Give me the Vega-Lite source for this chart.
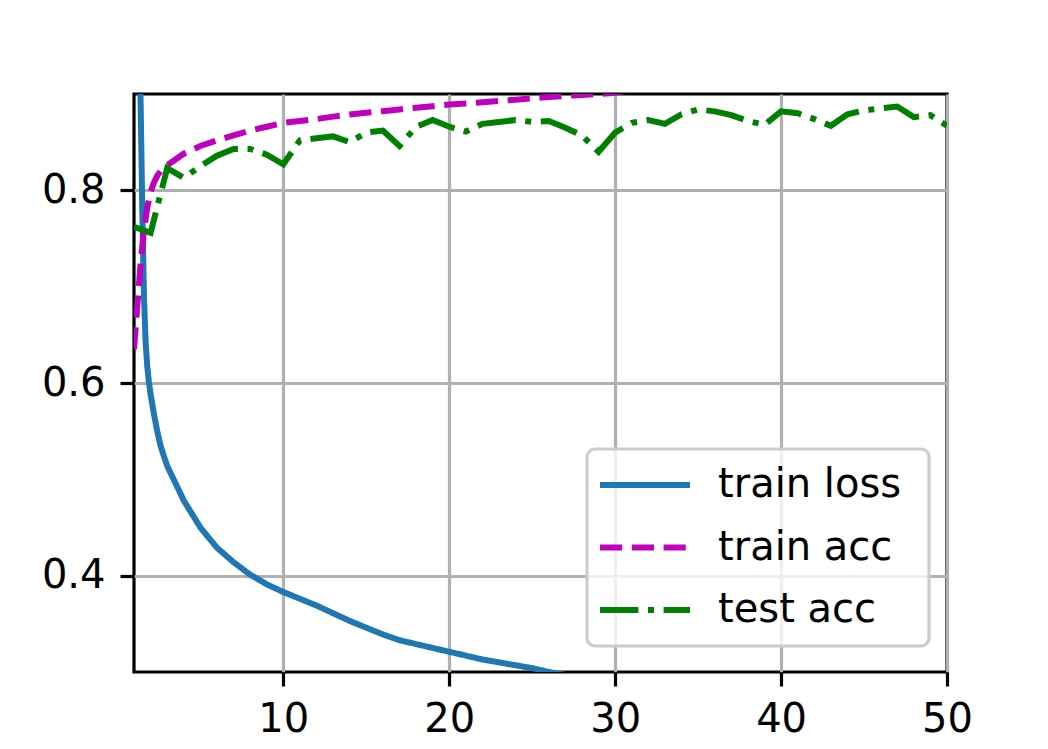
{
  "$schema": "https://vega.github.io/schema/vega-lite/v6.json",
  "width": 813,
  "height": 578,
  "autosize": {"type": "none"},
  "padding": {"left": 134, "top": 94, "right": 101, "bottom": 77},
  "background": "white",
  "config": {
    "font": "DejaVu Sans",
    "view": {"stroke": "black", "strokeWidth": 3.2},
    "axis": {
      "domain": false,
      "grid": true,
      "gridColor": "#b0b0b0",
      "gridWidth": 3.2,
      "ticks": true,
      "tickColor": "black",
      "tickWidth": 3.2,
      "tickSize": 14,
      "labelFont": "DejaVu Sans",
      "labelFontSize": 40,
      "labelColor": "black",
      "labelFlush": false,
      "labelOverlap": false,
      "title": null
    }
  },
  "data": {
    "values": [
      {"epoch": 1.0, "series": "train loss", "value": 1.22},
      {"epoch": 1.1, "series": "train loss", "value": 1.13},
      {"epoch": 1.2, "series": "train loss", "value": 1.05},
      {"epoch": 1.3, "series": "train loss", "value": 0.97},
      {"epoch": 1.4, "series": "train loss", "value": 0.89},
      {"epoch": 1.5, "series": "train loss", "value": 0.78},
      {"epoch": 1.6, "series": "train loss", "value": 0.69},
      {"epoch": 1.7, "series": "train loss", "value": 0.643},
      {"epoch": 1.8, "series": "train loss", "value": 0.617},
      {"epoch": 1.9, "series": "train loss", "value": 0.601},
      {"epoch": 2.0, "series": "train loss", "value": 0.588},
      {"epoch": 2.2, "series": "train loss", "value": 0.568},
      {"epoch": 2.4, "series": "train loss", "value": 0.55},
      {"epoch": 2.6, "series": "train loss", "value": 0.535},
      {"epoch": 2.8, "series": "train loss", "value": 0.524},
      {"epoch": 3, "series": "train loss", "value": 0.514},
      {"epoch": 4, "series": "train loss", "value": 0.478},
      {"epoch": 5, "series": "train loss", "value": 0.45},
      {"epoch": 6, "series": "train loss", "value": 0.429},
      {"epoch": 7, "series": "train loss", "value": 0.414},
      {"epoch": 8, "series": "train loss", "value": 0.401},
      {"epoch": 9, "series": "train loss", "value": 0.391},
      {"epoch": 10, "series": "train loss", "value": 0.383},
      {"epoch": 11, "series": "train loss", "value": 0.376},
      {"epoch": 12, "series": "train loss", "value": 0.369},
      {"epoch": 13, "series": "train loss", "value": 0.361},
      {"epoch": 14, "series": "train loss", "value": 0.353},
      {"epoch": 15, "series": "train loss", "value": 0.346},
      {"epoch": 16, "series": "train loss", "value": 0.339},
      {"epoch": 17, "series": "train loss", "value": 0.333},
      {"epoch": 18, "series": "train loss", "value": 0.329},
      {"epoch": 19, "series": "train loss", "value": 0.325},
      {"epoch": 20, "series": "train loss", "value": 0.321},
      {"epoch": 21, "series": "train loss", "value": 0.317},
      {"epoch": 22, "series": "train loss", "value": 0.313},
      {"epoch": 23, "series": "train loss", "value": 0.31},
      {"epoch": 24, "series": "train loss", "value": 0.307},
      {"epoch": 25, "series": "train loss", "value": 0.304},
      {"epoch": 26, "series": "train loss", "value": 0.3},
      {"epoch": 27, "series": "train loss", "value": 0.297},
      {"epoch": 28, "series": "train loss", "value": 0.294},
      {"epoch": 29, "series": "train loss", "value": 0.291},
      {"epoch": 30, "series": "train loss", "value": 0.288},
      {"epoch": 31, "series": "train loss", "value": 0.286},
      {"epoch": 32, "series": "train loss", "value": 0.283},
      {"epoch": 33, "series": "train loss", "value": 0.281},
      {"epoch": 34, "series": "train loss", "value": 0.279},
      {"epoch": 35, "series": "train loss", "value": 0.277},
      {"epoch": 36, "series": "train loss", "value": 0.275},
      {"epoch": 37, "series": "train loss", "value": 0.273},
      {"epoch": 38, "series": "train loss", "value": 0.271},
      {"epoch": 39, "series": "train loss", "value": 0.269},
      {"epoch": 40, "series": "train loss", "value": 0.267},
      {"epoch": 41, "series": "train loss", "value": 0.266},
      {"epoch": 42, "series": "train loss", "value": 0.264},
      {"epoch": 43, "series": "train loss", "value": 0.262},
      {"epoch": 44, "series": "train loss", "value": 0.261},
      {"epoch": 45, "series": "train loss", "value": 0.259},
      {"epoch": 46, "series": "train loss", "value": 0.258},
      {"epoch": 47, "series": "train loss", "value": 0.256},
      {"epoch": 48, "series": "train loss", "value": 0.255},
      {"epoch": 49, "series": "train loss", "value": 0.254},
      {"epoch": 50, "series": "train loss", "value": 0.252},

      {"epoch": 1.0, "series": "train acc", "value": 0.635},
      {"epoch": 1.2, "series": "train acc", "value": 0.68},
      {"epoch": 1.4, "series": "train acc", "value": 0.725},
      {"epoch": 1.6, "series": "train acc", "value": 0.758},
      {"epoch": 1.8, "series": "train acc", "value": 0.782},
      {"epoch": 2.0, "series": "train acc", "value": 0.798},
      {"epoch": 2.2, "series": "train acc", "value": 0.808},
      {"epoch": 2.4, "series": "train acc", "value": 0.815},
      {"epoch": 2.6, "series": "train acc", "value": 0.82},
      {"epoch": 2.8, "series": "train acc", "value": 0.823},
      {"epoch": 3, "series": "train acc", "value": 0.826},
      {"epoch": 4, "series": "train acc", "value": 0.838},
      {"epoch": 5, "series": "train acc", "value": 0.846},
      {"epoch": 6, "series": "train acc", "value": 0.852},
      {"epoch": 7, "series": "train acc", "value": 0.857},
      {"epoch": 8, "series": "train acc", "value": 0.862},
      {"epoch": 9, "series": "train acc", "value": 0.866},
      {"epoch": 10, "series": "train acc", "value": 0.87},
      {"epoch": 11, "series": "train acc", "value": 0.872},
      {"epoch": 12, "series": "train acc", "value": 0.874},
      {"epoch": 13, "series": "train acc", "value": 0.8765},
      {"epoch": 14, "series": "train acc", "value": 0.8787},
      {"epoch": 15, "series": "train acc", "value": 0.8805},
      {"epoch": 16, "series": "train acc", "value": 0.8822},
      {"epoch": 17, "series": "train acc", "value": 0.884},
      {"epoch": 18, "series": "train acc", "value": 0.8857},
      {"epoch": 19, "series": "train acc", "value": 0.8873},
      {"epoch": 20, "series": "train acc", "value": 0.889},
      {"epoch": 21, "series": "train acc", "value": 0.8902},
      {"epoch": 22, "series": "train acc", "value": 0.8914},
      {"epoch": 23, "series": "train acc", "value": 0.8927},
      {"epoch": 24, "series": "train acc", "value": 0.894},
      {"epoch": 25, "series": "train acc", "value": 0.8955},
      {"epoch": 26, "series": "train acc", "value": 0.897},
      {"epoch": 27, "series": "train acc", "value": 0.898},
      {"epoch": 28, "series": "train acc", "value": 0.899},
      {"epoch": 29, "series": "train acc", "value": 0.9},
      {"epoch": 30, "series": "train acc", "value": 0.9014},
      {"epoch": 31, "series": "train acc", "value": 0.9042},
      {"epoch": 32, "series": "train acc", "value": 0.9055},
      {"epoch": 33, "series": "train acc", "value": 0.9065},
      {"epoch": 34, "series": "train acc", "value": 0.9073},
      {"epoch": 35, "series": "train acc", "value": 0.908},
      {"epoch": 36, "series": "train acc", "value": 0.9087},
      {"epoch": 37, "series": "train acc", "value": 0.9093},
      {"epoch": 38, "series": "train acc", "value": 0.9099},
      {"epoch": 39, "series": "train acc", "value": 0.9105},
      {"epoch": 40, "series": "train acc", "value": 0.911},
      {"epoch": 41, "series": "train acc", "value": 0.9115},
      {"epoch": 42, "series": "train acc", "value": 0.912},
      {"epoch": 43, "series": "train acc", "value": 0.9125},
      {"epoch": 44, "series": "train acc", "value": 0.913},
      {"epoch": 45, "series": "train acc", "value": 0.9134},
      {"epoch": 46, "series": "train acc", "value": 0.9138},
      {"epoch": 47, "series": "train acc", "value": 0.9142},
      {"epoch": 48, "series": "train acc", "value": 0.9146},
      {"epoch": 49, "series": "train acc", "value": 0.915},
      {"epoch": 50, "series": "train acc", "value": 0.9154},

      {"epoch": 1, "series": "test acc", "value": 0.762},
      {"epoch": 2, "series": "test acc", "value": 0.756},
      {"epoch": 3, "series": "test acc", "value": 0.823},
      {"epoch": 4, "series": "test acc", "value": 0.813},
      {"epoch": 5, "series": "test acc", "value": 0.825},
      {"epoch": 6, "series": "test acc", "value": 0.836},
      {"epoch": 7, "series": "test acc", "value": 0.843},
      {"epoch": 8, "series": "test acc", "value": 0.843},
      {"epoch": 9, "series": "test acc", "value": 0.837},
      {"epoch": 10, "series": "test acc", "value": 0.827},
      {"epoch": 11, "series": "test acc", "value": 0.852},
      {"epoch": 12, "series": "test acc", "value": 0.854},
      {"epoch": 13, "series": "test acc", "value": 0.856},
      {"epoch": 14, "series": "test acc", "value": 0.85},
      {"epoch": 15, "series": "test acc", "value": 0.86},
      {"epoch": 16, "series": "test acc", "value": 0.862},
      {"epoch": 17, "series": "test acc", "value": 0.846},
      {"epoch": 18, "series": "test acc", "value": 0.866},
      {"epoch": 19, "series": "test acc", "value": 0.873},
      {"epoch": 20, "series": "test acc", "value": 0.866},
      {"epoch": 21, "series": "test acc", "value": 0.861},
      {"epoch": 22, "series": "test acc", "value": 0.869},
      {"epoch": 23, "series": "test acc", "value": 0.871},
      {"epoch": 24, "series": "test acc", "value": 0.873},
      {"epoch": 25, "series": "test acc", "value": 0.871},
      {"epoch": 26, "series": "test acc", "value": 0.872},
      {"epoch": 27, "series": "test acc", "value": 0.865},
      {"epoch": 28, "series": "test acc", "value": 0.857},
      {"epoch": 29, "series": "test acc", "value": 0.84},
      {"epoch": 30, "series": "test acc", "value": 0.86},
      {"epoch": 31, "series": "test acc", "value": 0.87},
      {"epoch": 32, "series": "test acc", "value": 0.873},
      {"epoch": 33, "series": "test acc", "value": 0.869},
      {"epoch": 34, "series": "test acc", "value": 0.879},
      {"epoch": 35, "series": "test acc", "value": 0.884},
      {"epoch": 36, "series": "test acc", "value": 0.882},
      {"epoch": 37, "series": "test acc", "value": 0.878},
      {"epoch": 38, "series": "test acc", "value": 0.872},
      {"epoch": 39, "series": "test acc", "value": 0.868},
      {"epoch": 40, "series": "test acc", "value": 0.882},
      {"epoch": 41, "series": "test acc", "value": 0.88},
      {"epoch": 42, "series": "test acc", "value": 0.874},
      {"epoch": 43, "series": "test acc", "value": 0.867},
      {"epoch": 44, "series": "test acc", "value": 0.879},
      {"epoch": 45, "series": "test acc", "value": 0.883},
      {"epoch": 46, "series": "test acc", "value": 0.885},
      {"epoch": 47, "series": "test acc", "value": 0.887},
      {"epoch": 48, "series": "test acc", "value": 0.876},
      {"epoch": 49, "series": "test acc", "value": 0.878},
      {"epoch": 50, "series": "test acc", "value": 0.867}
    ]
  },
  "mark": {"type": "line", "clip": true, "strokeWidth": 6, "strokeCap": "butt"},
  "encoding": {
    "x": {
      "field": "epoch",
      "type": "quantitative",
      "scale": {"domain": [1, 50], "nice": false, "zero": false},
      "axis": {"values": [10, 20, 30, 40, 50], "format": "d", "labelPadding": 13}
    },
    "y": {
      "field": "value",
      "type": "quantitative",
      "scale": {"domain": [0.3, 0.9], "nice": false, "zero": false},
      "axis": {"values": [0.4, 0.6, 0.8], "format": ".1f", "labelPadding": 15}
    },
    "color": {
      "field": "series",
      "type": "nominal",
      "sort": ["train loss", "train acc", "test acc"],
      "scale": {"domain": ["train loss", "train acc", "test acc"], "range": ["#1f77b4", "#bf00bf", "#008000"]},
      "legend": {
        "title": ".",
        "titleOrient": "right",
        "titleFontSize": 40,
        "titleOpacity": 0,
        "titlePadding": 2,
        "orient": "none",
        "legendX": 453,
        "legendY": 355,
        "symbolType": "stroke",
        "symbolSize": 8100,
        "symbolStrokeWidth": 6,
        "symbolOpacity": 1,
        "labelFont": "DejaVu Sans",
        "labelFontSize": 40,
        "labelColor": "black",
        "labelOffset": 25,
        "labelLimit": 400,
        "clipHeight": 52,
        "rowPadding": 10.5,
        "padding": 10,
        "fillColor": "rgba(255,255,255,0.8)",
        "strokeColor": "#cccccc",
        "cornerRadius": 8,
        "encode": {"legend": {"update": {"strokeWidth": {"value": 3.2}}}}
      }
    },
    "strokeDash": {
      "field": "series",
      "type": "nominal",
      "sort": ["train loss", "train acc", "test acc"],
      "scale": {"domain": ["train loss", "train acc", "test acc"], "range": [[1, 0], [22.2, 9.6], [38.4, 9.6, 6, 9.6]]},
      "legend": {
        "title": ".",
        "titleOrient": "right",
        "titleFontSize": 40,
        "titleOpacity": 0,
        "titlePadding": 2,
        "orient": "none",
        "legendX": 453,
        "legendY": 355,
        "symbolType": "stroke",
        "symbolSize": 8100,
        "symbolStrokeWidth": 6,
        "symbolOpacity": 1,
        "labelFont": "DejaVu Sans",
        "labelFontSize": 40,
        "labelColor": "black",
        "labelOffset": 25,
        "labelLimit": 400,
        "clipHeight": 52,
        "rowPadding": 10.5,
        "padding": 10,
        "fillColor": "rgba(255,255,255,0.8)",
        "strokeColor": "#cccccc",
        "cornerRadius": 8,
        "encode": {"legend": {"update": {"strokeWidth": {"value": 3.2}}}}
      }
    }
  }
}
